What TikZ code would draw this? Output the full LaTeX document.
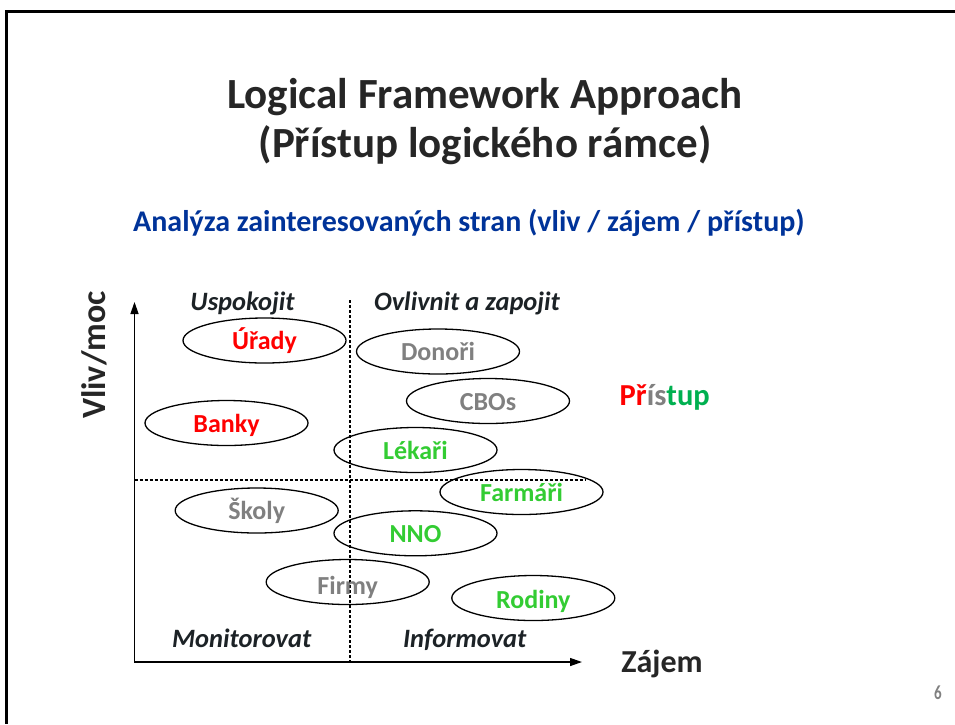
\documentclass[tikz,border=0pt]{standalone}
\usepackage{fontspec}
\setmainfont{Carlito}
\usetikzlibrary{arrows.meta,shapes.geometric}

\definecolor{inkdark}{RGB}{38,38,38}
\definecolor{quadink}{RGB}{28,34,38}
\definecolor{headblue}{RGB}{0,51,153}
\definecolor{actred}{RGB}{255,0,0}
\definecolor{actgray}{RGB}{128,128,128}
\definecolor{actgreen}{RGB}{51,204,51}
\definecolor{keygreen}{RGB}{0,176,80}

\tikzset{
  frameline/.style={line width=3pt, black},
  axisline/.style={line width=1.3pt, black},
  quadline/.style={line width=1.2pt, black, dash pattern=on 3pt off 2pt},
  stake/.style={draw, ellipse, line width=1.3pt, minimum width=163pt, minimum height=45pt, inner sep=0pt},
  staketext/.style={anchor=base, inner sep=0pt, font=\fontsize{26}{28}\selectfont\bfseries},
  quadtext/.style={anchor=base, inner sep=0pt, text=quadink, font=\fontsize{26.5}{30}\selectfont\bfseries\itshape},
  titletext/.style={anchor=base, inner sep=0pt, text=inkdark, font=\fontsize{43}{49}\selectfont\bfseries},
}

\begin{document}
\begin{tikzpicture}[x=1pt,y=-1pt]
\useasboundingbox (0,0) rectangle (955,724);

% slide frame: top and left edges only
\coordinate (ftop) at (955,11.5);
\coordinate (fcorner) at (6.5,11.5);
\coordinate (fbottom) at (6.5,724);
\draw[frameline] (ftop) -- (fcorner) -- (fbottom);

% headings
\node[titletext] (title1) at (485,108) {Logical Framework Approach};
\node[titletext] (title2) at (485,157) {(Přístup logického rámce)};
\node[text=headblue, font=\fontsize{30}{34}\selectfont\bfseries, anchor=base west, inner sep=0pt] (subtitle) at (133,231)
  {Analýza zainteresovaných stran (vliv / zájem / přístup)};

% axes
\coordinate (origin) at (134.5,662);
\coordinate (ytip) at (134.5,302);
\coordinate (xtip) at (582,662);
\draw[axisline, {Triangle[length=12pt,width=8pt]}-{Triangle[length=12pt,width=8pt]}] (ytip) -- (origin) -- (xtip);

% quadrant dividers
\coordinate (vtop) at (350,300);
\coordinate (vbot) at (350,662);
\coordinate (hleft) at (134.5,480);
\coordinate (hright) at (585,480);
\draw[quadline] (vtop) -- (vbot);
\draw[quadline] (hleft) -- (hright);

% axis titles
\node[text=inkdark, font=\fontsize{34}{36}\selectfont\bfseries, rotate=90, inner sep=0pt] (ylab) at (94,355) {Vliv/moc};
\node[text=inkdark, font=\fontsize{32}{36}\selectfont\bfseries, anchor=base, inner sep=0pt] (xlab) at (662,672) {Zájem};

% quadrant names
\node[quadtext] (q1) at (242.5,310) {Uspokojit};
\node[quadtext] (q2) at (467,310) {Ovlivnit a zapojit};
\node[quadtext] (q3) at (241.7,647) {Monitorovat};
\node[quadtext] (q4) at (464.7,647) {Informovat};

% stakeholders
\node[stake] (urady) at (264.5,340.5) {};
\node[stake] (donori) at (438,351.5) {};
\node[stake] (cbos) at (488,401) {};
\node[stake] (banky) at (226.5,423) {};
\node[stake] (lekari) at (415.5,450) {};
\node[stake] (farmari) at (521.5,492) {};
\node[stake] (skoly) at (256.7,510.5) {};
\node[stake] (nno) at (415.5,533.3) {};
\node[stake] (firmy) at (347.7,582) {};
\node[stake] (rodiny) at (533.3,598) {};

\node[staketext, text=actred] (uradyt) at ([yshift=-9pt]urady.center) {Úřady};
\node[staketext, text=actgray] (donorit) at ([yshift=-9pt]donori.center) {Donoři};
\node[staketext, text=actgray] (cbost) at ([yshift=-9pt]cbos.center) {CBOs};
\node[staketext, text=actred] (bankyt) at ([yshift=-9pt]banky.center) {Banky};
\node[staketext, text=actgreen] (lekarit) at ([yshift=-9pt]lekari.center) {Lékaři};
\node[staketext, text=actgreen] (farmarit) at ([yshift=-9pt]farmari.center) {Farmáři};
\node[staketext, text=actgray] (skolyt) at ([yshift=-9pt]skoly.center) {Školy};
\node[staketext, text=actgreen] (nnot) at ([yshift=-9pt]nno.center) {NNO};
\node[staketext, text=actgray] (firmyt) at ([yshift=-12pt]firmy.center) {Firmy};
\node[staketext, text=actgreen] (rodinyt) at ([yshift=-10pt]rodiny.center) {Rodiny};

% access legend
\node[font=\fontsize{30.5}{34}\selectfont\bfseries, anchor=base, inner sep=0pt] (pristup) at (664.7,405)
  {\textcolor{actred}{Př}\textcolor{actgray}{ís}\textcolor{keygreen}{tup}};

% page number
\node[text=actgray, font=\fontsize{20}{22}\selectfont\bfseries, xscale=0.75, inner sep=0pt] (pageno) at (938,693) {6};
\end{tikzpicture}
\end{document}
